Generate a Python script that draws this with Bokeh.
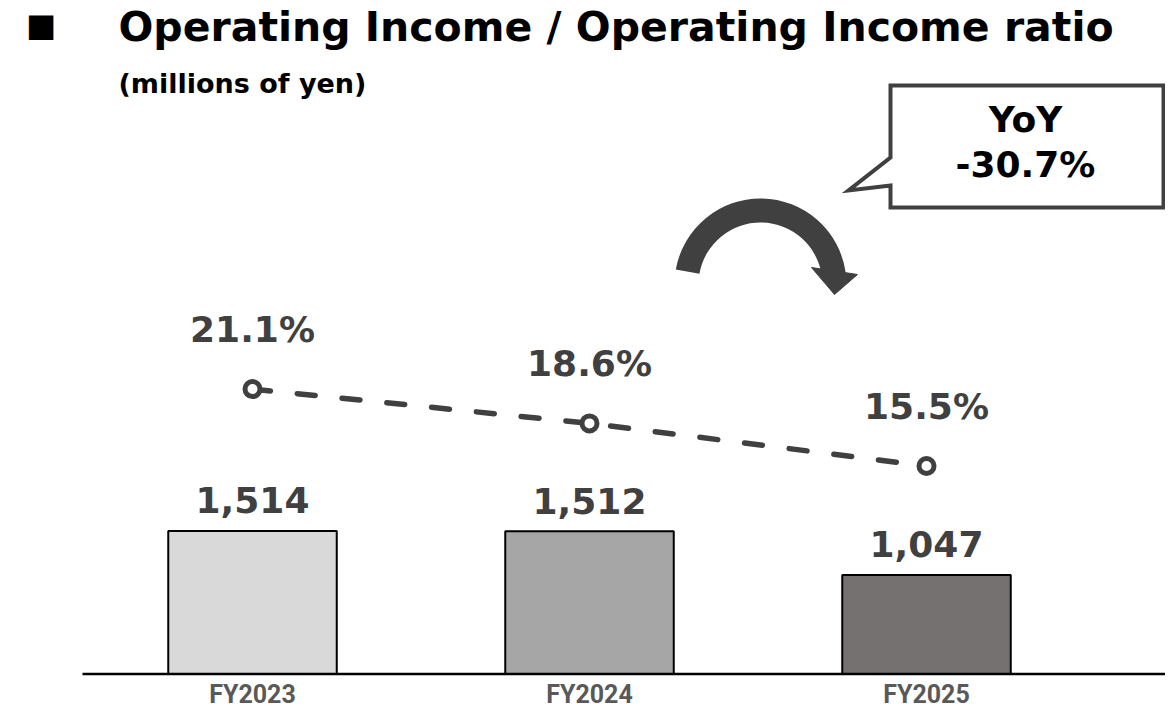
from bokeh.plotting import figure
from bokeh.models import Range1d
from bokeh.core.properties import value
from bokeh.embed import file_html
from bokeh.resources import INLINE

# ---- data ----
categories = ["FY2023", "FY2024", "FY2025"]
operating_income = [1514, 1512, 1047]          # millions of yen
income_ratio = [21.1, 18.6, 15.5]              # %
bar_colors = ["#d9d9d9", "#a6a6a6", "#767171"]
yoy_lines = ["YoY", "-30.7%"]
title_text = "Operating Income / Operating Income ratio"
subtitle_text = "(millions of yen)"

xs = list(range(len(categories)))
income_labels = [f"{v:,}" for v in operating_income]
ratio_labels = [f"{r:.1f}%" for r in income_ratio]

W, H = 1165, 712
FONT = value("DejaVu Sans")
DARK = "#404040"
K = 0.38  # baseline correction factor (em)

p = figure(width=W, height=H, output_backend="svg", toolbar_location=None,
           x_range=Range1d(-0.7478, 2.7092), y_range=Range1d(-407.6, 7130.6),
           x_axis_type=None, y_axis_type=None, min_border=0,
           outline_line_color=None, background_fill_color="white",
           border_fill_color="white")
p.extra_y_ranges = {"ratio": Range1d(-2.454, 49.40), "px": Range1d(0, H)}
p.extra_x_ranges = {"px": Range1d(0, W)}
p.xgrid.visible = False
p.ygrid.visible = False

# bars
p.vbar(x=xs, top=operating_income, bottom=0, width=0.5,
       fill_color=bar_colors, line_color="black", line_width=2)

# baseline
p.segment(x0=[82], x1=[W], y0=[0], y1=[0], x_range_name="px",
          line_color="black", line_width=2.5)

# ratio line
p.line(xs, income_ratio, y_range_name="ratio", line_color=DARK,
       line_width=5.5, line_dash="18 27", line_cap="round")
p.scatter(xs, income_ratio, y_range_name="ratio", size=15, marker="circle",
          fill_color="white", line_color=DARK, line_width=5)

# value labels
p.text(xs, operating_income, text=income_labels, y_offset=-(17 + K * 36),
       text_align="center", text_baseline="alphabetic",
       text_font=FONT, text_font_style="bold", text_font_size="36px",
       text_color=DARK)
p.text(xs, income_ratio, text=ratio_labels, y_range_name="ratio",
       y_offset=-(46 + K * 36),
       text_align="center", text_baseline="alphabetic",
       text_font=FONT, text_font_style="bold", text_font_size="36px",
       text_color=DARK)

# category labels
p.text(xs, [0] * len(xs), text=categories, y_offset=29.5 - K * 25,
       text_align="center", text_baseline="alphabetic",
       text_font=value("Roboto"), text_font_style="bold",
       text_font_size="25px", text_color="#595959")

# title block (pixel coordinates, y measured from bottom)
p.text([40.5], [H - 27.5 + 0.09 * 32], text=["■"], x_range_name="px", y_range_name="px",
       text_align="center", text_baseline="middle", text_font=FONT,
       text_font_size="32px", text_color="black")
p.text([118], [H - 42 + K * 41], text=[title_text], x_range_name="px", y_range_name="px",
       text_align="left", text_baseline="alphabetic", text_font=FONT,
       text_font_style="bold", text_font_size="41px", text_color="black")
p.text([118], [H - 93 + K * 27], text=[subtitle_text], x_range_name="px", y_range_name="px",
       text_align="left", text_baseline="alphabetic", text_font=FONT,
       text_font_style="bold", text_font_size="27px", text_color="black")

# callout box
cx = [890, 1163, 1163, 890, 890, 848, 890]
cy = [H - 85, H - 85, H - 207, H - 207, H - 185, H - 190, H - 157]
p.patch(cx, cy, x_range_name="px", y_range_name="px", fill_color="white",
        line_color=DARK, line_width=4, line_join="miter")
p.text([1025, 1025], [H - 133 + K * 36, H - 178 + K * 36], text=yoy_lines,
       x_range_name="px", y_range_name="px",
       text_align="center", text_baseline="alphabetic", text_font=FONT,
       text_font_style="bold", text_font_size="36px", text_color="black")

# curved arrow
p.annular_wedge(x=[760], y=[H - 284], inner_radius=62, outer_radius=86,
                start_angle=8, end_angle=170, start_angle_units="deg",
                end_angle_units="deg", x_range_name="px", y_range_name="px",
                fill_color=DARK, line_color=None)
p.patch([811, 857, 834], [H - 267, H - 274, H - 294], x_range_name="px", y_range_name="px",
        fill_color=DARK, line_color=DARK, line_width=1)

open("out.html", "w").write(file_html(p, INLINE))
